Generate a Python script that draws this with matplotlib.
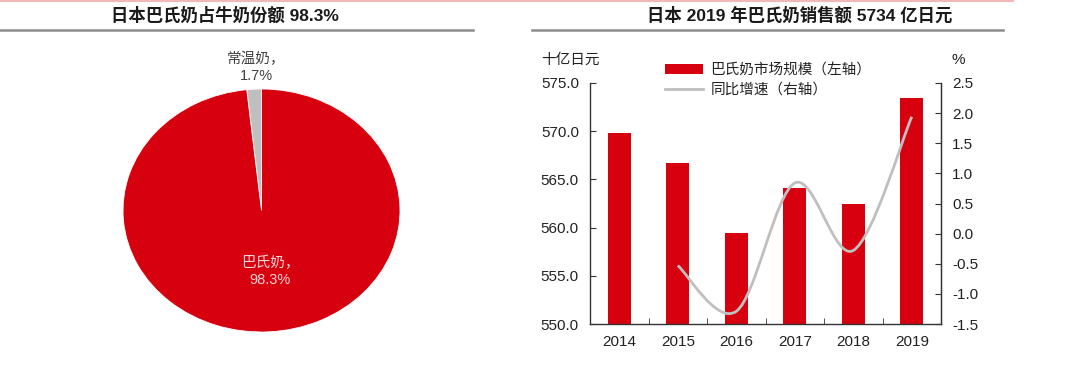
"""Japan pasteurised milk: share pie + sales bars with growth line"""

import matplotlib.pyplot as plt
from matplotlib.path import Path
from matplotlib.patches import PathPatch, Patch
from matplotlib.lines import Line2D
import numpy as np

plt.rcParams['font.family'] = ['Liberation Sans', 'Noto Sans CJK SC']

# pie data
pie_labels = ['常温奶，\n1.7%', '巴氏奶，\n98.3%']
pie_shares = [1.7, 98.3]

# bar / line data
years = ['2014', '2015', '2016', '2017', '2018', '2019']
sales = [569.8, 566.7, 559.4, 564.1, 562.5, 573.4]     # 十亿日元
growth = [None, -0.53, -1.29, 0.84, -0.28, 1.94]       # %

RED = '#D7000F'
GRAY = '#BFBFBF'
DARK = '#333333'

W, H = 1080, 365
fig = plt.figure(figsize=(W / 100, H / 100), dpi=100)


def fx(px):
    return px / W


def fy(py):
    return 1 - py / H


# header decorations
fig.add_artist(Line2D([0, fx(1013)], [fy(0.5), fy(0.5)], color='#F2B8B8', lw=1.5))
fig.add_artist(Line2D([0, fx(473)], [fy(30), fy(30)], color='#8C8C8C', lw=1.8))
fig.add_artist(Line2D([fx(532), fx(1003)], [fy(30), fy(30)], color='#8C8C8C', lw=1.8))
fig.text(fx(225), fy(15), '日本巴氏奶占牛奶份额 98.3%', ha='center', va='center',
         fontsize=12.5, fontweight='bold', color='#1a1a1a')
fig.text(fx(800), fy(15), '日本 2019 年巴氏奶销售额 5734 亿日元', ha='center', va='center',
         fontsize=12.5, fontweight='bold', color='#1a1a1a')

# ---- pie (elliptical) ----
cx, cy, rx, ry = 261.5, 210.5, 138.5, 121.5
axp = fig.add_axes([fx(cx - rx), fy(cy + ry), 2 * rx / W, 2 * ry / H])
axp.pie(pie_shares, colors=[GRAY, RED], startangle=90, counterclock=True,
        wedgeprops={'edgecolor': 'white', 'linewidth': 0.6})
axp.set_aspect('auto')
axp.set_xlim(-1, 1)
axp.set_ylim(-1, 1)
axp.axis('off')
fig.text(fx(256), fy(67), pie_labels[0], ha='center', va='center', fontsize=10.5,
         color='#404040', linespacing=1.25)
fig.text(fx(270), fy(271), pie_labels[1], ha='center', va='center', fontsize=10.5,
         color='#F6D5D5', linespacing=1.25)

# ---- bars + growth line ----
ax = fig.add_axes([fx(590), fy(324), fx(941) - fx(590), fy(83) - fy(324)])
x = np.arange(len(years))
ax.bar(x, sales, width=0.39, color=RED, zorder=2)
ax.set_ylim(550, 575)
ax.set_yticks(np.arange(550, 575.1, 5))
ax.set_yticklabels(['%.1f' % v for v in np.arange(550, 575.1, 5)])
ax.set_xlim(-0.5, len(years) - 0.5)
ax.set_xticks(x)
ax.set_xticklabels(years)
ax.set_xticks(np.arange(0.5, len(years) - 0.5, 1), minor=True)
ax.tick_params(axis='x', which='major', length=0, pad=8, labelsize=11, colors='#222222')
ax.tick_params(axis='x', which='minor', direction='in', length=4, color=DARK)
ax.tick_params(axis='y', direction='in', length=4, color=DARK, pad=8,
               labelsize=11, labelcolor='#222222')
ax.spines['top'].set_visible(False)
for s in ['left', 'bottom', 'right']:
    ax.spines[s].set_color(DARK)
    ax.spines[s].set_linewidth(1.0)

ax2 = ax.twinx()
ax2.set_ylim(-1.5, 2.5)
ax2.set_yticks(np.arange(-1.5, 2.51, 0.5))
ax2.set_yticklabels(['%.1f' % v for v in np.arange(-1.5, 2.51, 0.5)])
ax2.tick_params(axis='y', direction='in', length=4, color=DARK, pad=8,
                labelsize=11, labelcolor='#222222')
for s in ['top', 'left', 'bottom']:
    ax2.spines[s].set_visible(False)
ax2.spines['right'].set_color(DARK)

# smoothed growth curve (Catmull-Rom as cubic Bezier segments)
gx = [i for i, g in enumerate(growth) if g is not None]
gy = [g for g in growth if g is not None]
pts = np.column_stack([gx, gy]).astype(float)
ext = np.vstack([pts[0], pts, pts[-1]])
verts = [tuple(pts[0])]
codes = [Path.MOVETO]
for i in range(len(pts) - 1):
    p0, p1, p2, p3 = ext[i], ext[i + 1], ext[i + 2], ext[i + 3]
    verts += [tuple(p1 + (p2 - p0) / 6), tuple(p2 - (p3 - p1) / 6), tuple(p2)]
    codes += [Path.CURVE4] * 3
ax2.add_patch(PathPatch(Path(verts, codes), facecolor='none', edgecolor=GRAY,
                        lw=2.0, zorder=3))

fig.text(fx(570), fy(60), '十亿日元', ha='center', va='center', fontsize=10.5, color='#222222')
fig.text(fx(958), fy(60), '%', ha='center', va='center', fontsize=11, color='#222222')

handles = [Patch(facecolor=RED), Line2D([], [], color=GRAY, lw=2)]
fig.legend(handles, ['巴氏奶市场规模（左轴）', '同比增速（右轴）'],
           loc='upper left', bbox_to_anchor=(fx(652), fy(50)), frameon=False,
           fontsize=10.5, handlelength=2.6, handleheight=0.6, handletextpad=0.5,
           labelspacing=0.4, labelcolor='#222222')

fig.savefig('out.png', dpi=100)
